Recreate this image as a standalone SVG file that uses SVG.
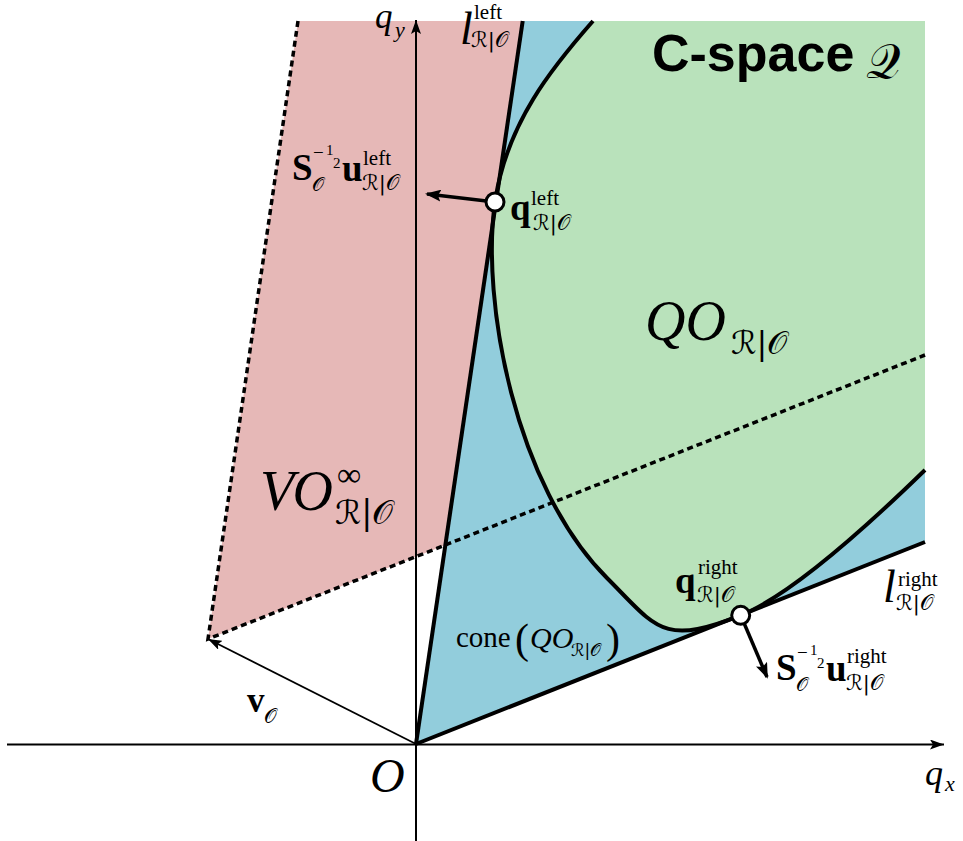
<svg xmlns="http://www.w3.org/2000/svg" width="963" height="841" viewBox="0 0 963 841">
<defs>
<style>
.m{font-family:"Liberation Serif","DejaVu Serif",serif;fill:#000}
.i{font-style:italic}
.b{font-weight:bold}
.cal{font-family:"DejaVu Serif","DejaVu Sans","Liberation Serif",serif;font-style:normal}
.thick{stroke:#000;stroke-width:4;fill:none}
.ax{stroke:#000;stroke-width:2;fill:none}
.dot{stroke:#000;stroke-width:3.5;fill:none;stroke-dasharray:6 4}
.pt{fill:#fff;stroke:#000;stroke-width:3}
</style>
<marker id="ah" viewBox="0 0 14 10" markerWidth="14" markerHeight="10" refX="14" refY="5" orient="auto" markerUnits="userSpaceOnUse">
<path d="M0,0 L14,5 L0,10 L3,5 z" fill="#000"/>
</marker>
<marker id="ahb" viewBox="0 0 16 12" markerWidth="16" markerHeight="12" refX="14" refY="6" orient="auto" markerUnits="userSpaceOnUse">
<path d="M0,0 L16,6 L0,12 L3,6 z" fill="#000"/>
</marker>
</defs>
<rect width="963" height="841" fill="#fff"/>

<g id="vo-region">
<polygon points="208,639 298,21 925,21 925,355" fill="#e6b8b7"/>
</g>
<g id="cone-region">
<polygon points="416,744 522.7,21 925,21 925,542" fill="#92cddc"/>
</g>
<g id="qo-region">
<path d="M593,21 C553.4,66 506.4,122.8 495,202 C480.8,301 515.1,486.1 607,578 C656.5,627.5 661.7,646.6 740.7,615.3 C796.5,593.1 881.8,512 925,470 L925,21 Z" fill="#b9e2bb"/>
</g>

<g id="connectors">
<path class="dot" d="M298,21 L208,639 L925,355"/>
<path class="thick" stroke-width="3.5" d="M593,21 C553.4,66 506.4,122.8 495,202 C480.8,301 515.1,486.1 607,578 C656.5,627.5 661.7,646.6 740.7,615.3 C796.5,593.1 881.8,512 925,470"/>
<line class="thick" x1="416" y1="744" x2="522.7" y2="21"/>
<line class="thick" x1="416" y1="744" x2="925" y2="542"/>
<line class="ax" x1="7" y1="744.5" x2="944" y2="744.5" marker-end="url(#ah)"/>
<line class="ax" x1="416" y1="841" x2="416" y2="20" marker-end="url(#ah)"/>
<line stroke="#000" stroke-width="1.8" x1="416" y1="744" x2="208" y2="639" marker-end="url(#ah)"/>
<line stroke="#000" stroke-width="3.5" x1="495" y1="202" x2="427" y2="194" marker-end="url(#ahb)"/>
<line stroke="#000" stroke-width="3.5" x1="740.7" y1="615.3" x2="767" y2="677" marker-end="url(#ahb)"/>
</g>

<g id="q-left">
<circle class="pt" cx="495" cy="202" r="9"/>
<text class="m b" x="510" y="220" font-size="37">q</text>
<text class="m" x="531" y="205" font-size="21">left</text>
<text class="m cal" x="533" y="230" font-size="21">ℛ|𝒪</text>
</g>
<g id="q-right">
<circle class="pt" cx="740.7" cy="615.3" r="9"/>
<text class="m b" x="675" y="593" font-size="37">q</text>
<text class="m" x="698" y="574" font-size="21">right</text>
<text class="m cal" x="697" y="602" font-size="21">ℛ|𝒪</text>
</g>

<g id="label-qy">
<text class="m i" x="375" y="28" font-size="35">q</text>
<text class="m i" x="395" y="37" font-size="22">y</text>
</g>
<g id="label-qx">
<text class="m i" x="925" y="785" font-size="36">q</text>
<text class="m i" x="945" y="791" font-size="22">x</text>
</g>
<g id="label-origin">
<text class="m i" x="370" y="792" font-size="48">O</text>
</g>
<g id="label-l-left">
<text class="m i" x="460" y="44" font-size="46">l</text>
<text class="m" x="474" y="19" font-size="21">left</text>
<text class="m cal" x="471" y="47" font-size="21">ℛ|𝒪</text>
</g>
<g id="label-l-right">
<text class="m i" x="883" y="602" font-size="46">l</text>
<text class="m" x="898" y="586" font-size="21">right</text>
<text class="m cal" x="896" y="610" font-size="21">ℛ|𝒪</text>
</g>
<g id="label-u-left">
<text class="m b" x="292" y="180" font-size="37">S</text>
<text class="m" x="313" y="159" font-size="19">−</text>
<text class="m" x="326" y="155" font-size="15">1</text>
<text class="m" x="333" y="168" font-size="15">2</text>
<text class="m cal" x="312" y="191" font-size="19">𝒪</text>
<text class="m b" x="342" y="181" font-size="37">u</text>
<text class="m" x="363" y="165" font-size="21">left</text>
<text class="m cal" x="362" y="190" font-size="21">ℛ|𝒪</text>
</g>
<g id="label-u-right">
<text class="m b" x="776" y="680" font-size="37">S</text>
<text class="m" x="797" y="659" font-size="19">−</text>
<text class="m" x="810" y="655" font-size="15">1</text>
<text class="m" x="817" y="668" font-size="15">2</text>
<text class="m cal" x="796" y="691" font-size="19">𝒪</text>
<text class="m b" x="826" y="681" font-size="37">u</text>
<text class="m" x="847" y="663" font-size="21">right</text>
<text class="m cal" x="846" y="690" font-size="21">ℛ|𝒪</text>
</g>
<g id="label-qo">
<text class="m i" x="645" y="340" font-size="56">QO</text>
<text class="m cal" x="731" y="354" font-size="32">ℛ|𝒪</text>
</g>
<g id="label-vo">
<text class="m i" x="260" y="510" font-size="56">VO</text>
<text class="m" x="337" y="486" font-size="34">∞</text>
<text class="m cal" x="335" y="524" font-size="33">ℛ|𝒪</text>
</g>
<g id="label-cone">
<text class="m" x="456" y="647" font-size="29">cone</text>
<text class="m" x="515" y="653" font-size="42">(</text>
<text class="m i" x="530" y="648" font-size="30">QO</text>
<text class="m cal" x="571" y="656" font-size="17">ℛ|𝒪</text>
<text class="m" x="606" y="653" font-size="42">)</text>
</g>
<g id="label-v">
<text class="m b" x="247" y="712" font-size="35">v</text>
<text class="m cal" x="264" y="723" font-size="20">𝒪</text>
</g>
<g id="label-cspace">
<text x="652" y="71" font-family="Liberation Sans, Arial, sans-serif" font-weight="bold" font-size="52">C-space</text>
<text class="m cal" x="866" y="78" font-size="48">𝒬</text>
</g>
</svg>
